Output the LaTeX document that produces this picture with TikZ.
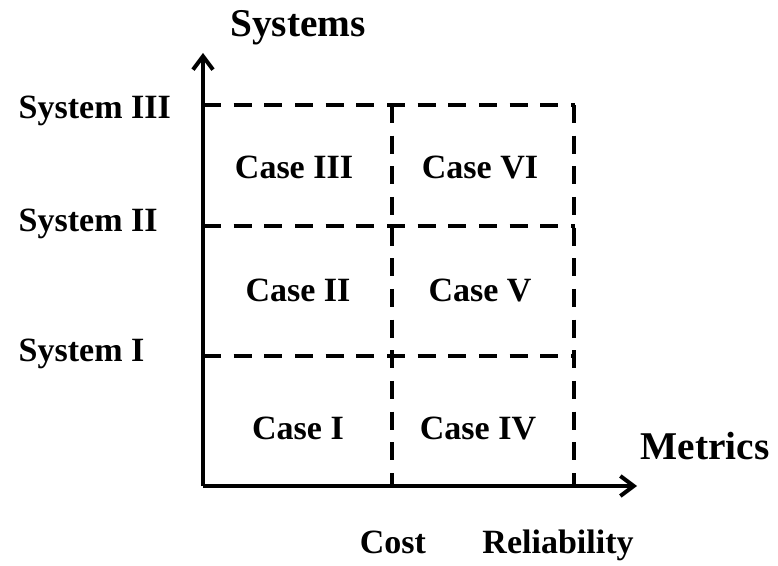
\documentclass[tikz,border=0pt]{standalone}
\usepackage{fontspec}
\setmainfont{Liberation Serif}
\usetikzlibrary{arrows.meta}
\usetikzlibrary{positioning}

\begin{document}
\begin{tikzpicture}[
        x=0.75pt, y=-0.75pt,
        lbl/.style={font=\fontsize{25.5}{28}\selectfont\bfseries, anchor=base},
        ttl/.style={font=\fontsize{29.5}{32}\selectfont\bfseries, anchor=base},
        axis/.style={line width=3pt, -{Straight Barb[length=10pt, width=15pt]}},
        grid/.style={line width=3.2pt, dash pattern=on 13.5pt off 9.5pt}
    ]
        \useasboundingbox (0,0) rectangle (778,566);

        % axes
        \coordinate (O) at (203,486);
        \coordinate (ytip) at (203,53);
        \coordinate (xtip) at (637,486);
        \draw[axis] (O) -- (ytip);
        \draw[axis] (O) -- (xtip);

        % grid corners
        \coordinate (s3) at (203,105);
        \coordinate (s2) at (203,226);
        \coordinate (s1) at (203,356);
        \coordinate (s3r) at (575,105);
        \coordinate (s2r) at (575,226);
        \coordinate (s1r) at (575,356);
        \coordinate (ct) at (392,105);
        \coordinate (cb) at (392,486);
        \coordinate (rt) at (574,105);
        \coordinate (rb) at (574,486);

        \draw[grid] (s3) -- (s3r);
        \draw[grid] (s2) -- (s2r);
        \draw[grid] (s1) -- (s1r);
        \draw[grid] (ct) -- (cb);
        \draw[grid] (rt) -- (rb);

        % axis titles
        \node[ttl] (systems) at (298,37) {Systems};
        \node[ttl] (metrics) at (705,459) {Metrics};

        % system labels
        \node[lbl, anchor=base west] (sys3) at (14,119) {System III};
        \node[lbl, anchor=base west] (sys2) at (14,232) {System II};
        \node[lbl, anchor=base west] (sys1) at (14,362) {System I};

        % metric labels
        \node[lbl] (cost) at (393,553) {Cost};
        \node[lbl] (rel) at (558,553) {Reliability};

        % cases
        \node[lbl] (case3) at (294,179) {Case III};
        \node[lbl] (case6) at (480,179) {Case VI};
        \node[lbl] (case2) at (298,302) {Case II};
        \node[lbl] (case5) at (480,302) {Case V};
        \node[lbl] (case1) at (298,439) {Case I};
        \node[lbl] (case4) at (478,439) {Case IV};
    \end{tikzpicture}
\end{document}
